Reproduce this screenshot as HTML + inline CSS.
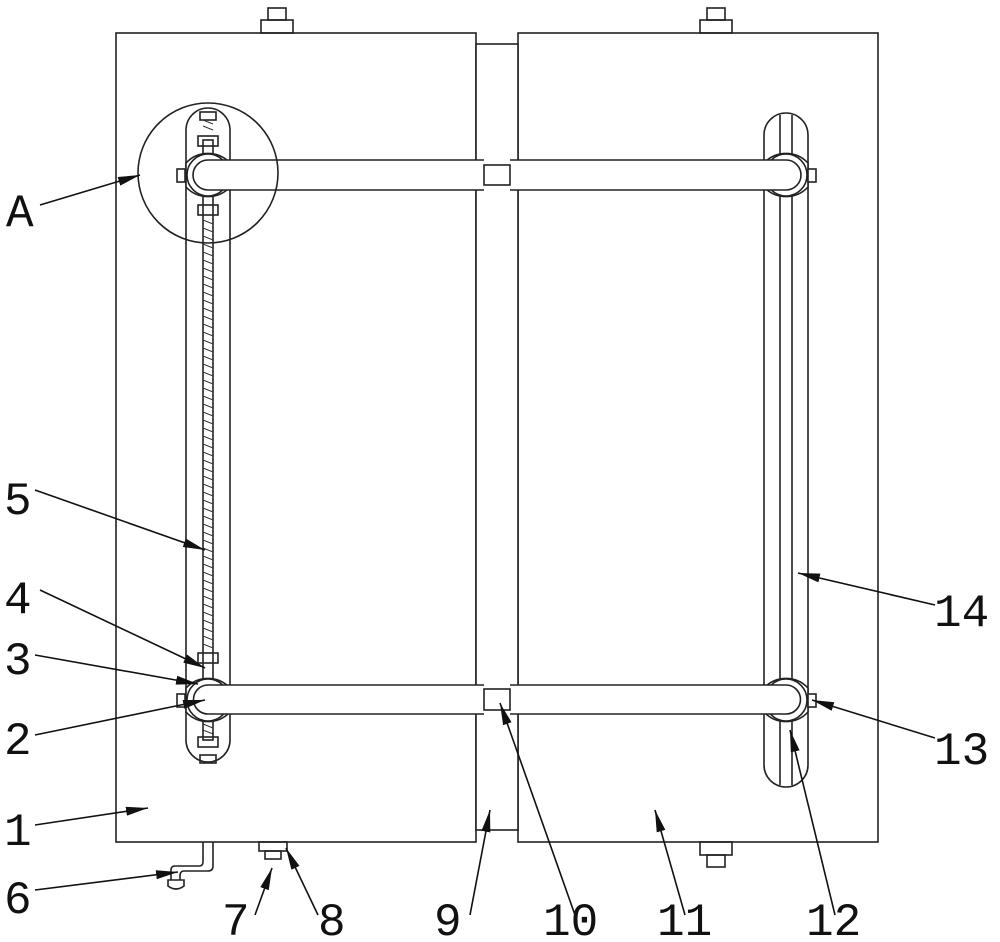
<!DOCTYPE html>
<html><head><style>body{margin:0;background:#fff}svg{display:block}text{font-family:"Liberation Mono","DejaVu Sans Mono",monospace;font-size:46px;fill:#111}</style></head>
<body>
<svg width="1000" height="942" viewBox="0 0 1000 942" xmlns="http://www.w3.org/2000/svg">
<defs><marker id="ar" viewBox="0 0 22 9" refX="22" refY="4.5" markerWidth="22" markerHeight="9" markerUnits="userSpaceOnUse" orient="auto"><path d="M0,0L22,4.5L0,9z" fill="#111"/></marker></defs>
<g fill="none" stroke="#222" stroke-width="1.6">
<rect x="116" y="33" width="360" height="809" fill="#fff"/>
<rect x="518" y="33" width="360" height="809" fill="#fff"/>
<rect x="476" y="44" width="42" height="786" fill="#fff"/>
<rect x="261" y="20" width="32" height="13"/><rect x="268" y="8" width="18" height="12"/>
<rect x="700" y="20" width="32" height="13"/><rect x="707" y="8" width="18" height="12"/>
<rect x="259" y="842" width="28" height="9"/><rect x="265" y="851" width="16" height="8"/>
<rect x="700" y="842" width="32" height="13"/><rect x="707" y="855" width="18" height="12"/>
<path d="M203,842 V862 Q203,866 199,866 H175 Q171,866 171,870 V880 M213,842 V866 Q213,871 208,871 H184 Q180,871 180,876 V880"/>
<path d="M168,880 H184 V886 Q176,892 168,886 Z"/>
<path d="M186,130 A22,22 0 0 1 230,130 V740 A22,22 0 0 1 186,740 Z" fill="#fff"/>
<rect x="203" y="140" width="10" height="600"/>
<rect x="200" y="112" width="16" height="8"/><rect x="198" y="136" width="20" height="10"/>
<rect x="198" y="205" width="20" height="10"/>
<rect x="198" y="653" width="20" height="10"/><rect x="198" y="737" width="20" height="10"/><rect x="200" y="755" width="16" height="8"/>
<path d="M764,135 A22,22 0 0 1 808,135 V765 A22,22 0 0 1 764,765 Z" fill="#fff"/>
<line x1="780" y1="115" x2="780" y2="785"/><line x1="792" y1="115" x2="792" y2="785"/>
<g fill="#fff">
<path d="M186,163 A30,30 0 0 1 230,163 V187 A30,30 0 0 1 186,187 Z"/>
<path d="M186,688 A30,30 0 0 1 230,688 V712 A30,30 0 0 1 186,712 Z"/>
<path d="M764,163 A30,30 0 0 1 808,163 V187 A30,30 0 0 1 764,187 Z"/>
<path d="M764,688 A30,30 0 0 1 808,688 V712 A30,30 0 0 1 764,712 Z"/>
</g>
<circle cx="208" cy="175" r="21"/><circle cx="208" cy="700" r="21"/>
<circle cx="786" cy="175" r="21"/><circle cx="786" cy="700" r="21"/>
<rect x="177" y="169" width="8" height="13" fill="#fff"/><rect x="177" y="694" width="8" height="13" fill="#fff"/>
<rect x="808" y="169" width="8" height="13" fill="#fff"/><rect x="808" y="694" width="8" height="13" fill="#fff"/>
<path d="M484,160 H208 A15,15 0 0 0 208,190 H484" fill="#fff"/>
<path d="M510,160 H786 A15,15 0 0 1 786,190 H510" fill="#fff"/>
<rect x="484" y="165" width="26" height="20" fill="#fff"/>
<path d="M484,685 H208 A14.5,14.5 0 0 0 208,714 H484" fill="#fff"/>
<path d="M510,685 H786 A14.5,14.5 0 0 1 786,714 H510" fill="#fff"/>
<rect x="484" y="689" width="26" height="21" fill="#fff"/>
<circle cx="208" cy="173" r="70"/>
</g>
<g stroke="#333" stroke-width="1">
<path d="M203,220 L213,224 M203,228 L213,232 M203,236 L213,240 M203,244 L213,248 M203,252 L213,256 M203,260 L213,264 M203,268 L213,272 M203,276 L213,280 M203,284 L213,288 M203,292 L213,296 M203,300 L213,304 M203,308 L213,312 M203,316 L213,320 M203,324 L213,328 M203,332 L213,336 M203,340 L213,344 M203,348 L213,352 M203,356 L213,360 M203,364 L213,368 M203,372 L213,376 M203,380 L213,384 M203,388 L213,392 M203,396 L213,400 M203,404 L213,408 M203,412 L213,416 M203,420 L213,424 M203,428 L213,432 M203,436 L213,440 M203,444 L213,448 M203,452 L213,456 M203,460 L213,464 M203,468 L213,472 M203,476 L213,480 M203,484 L213,488 M203,492 L213,496 M203,500 L213,504 M203,508 L213,512 M203,516 L213,520 M203,524 L213,528 M203,532 L213,536 M203,540 L213,544 M203,548 L213,552 M203,556 L213,560 M203,564 L213,568 M203,572 L213,576 M203,580 L213,584 M203,588 L213,592 M203,596 L213,600 M203,604 L213,608 M203,612 L213,616 M203,620 L213,624 M203,628 L213,632 M203,636 L213,640 M203,644 L213,648 M203,724 L213,728 M203,730 L213,734 M203,120 L213,124 M203,126 L213,130"/>
</g>
<g stroke="#111" stroke-width="1.6" marker-end="url(#ar)">
<line x1="40" y1="205" x2="140" y2="175"/>
<line x1="35" y1="490" x2="205" y2="550"/>
<line x1="40" y1="590" x2="205" y2="668"/>
<line x1="35" y1="655" x2="198" y2="684"/>
<line x1="35" y1="735" x2="205" y2="700"/>
<line x1="35" y1="825" x2="148" y2="808"/>
<line x1="35" y1="890" x2="178" y2="872"/>
<line x1="255" y1="915" x2="272" y2="868"/>
<line x1="318" y1="915" x2="286" y2="848"/>
<line x1="470" y1="915" x2="490" y2="810"/>
<line x1="575" y1="915" x2="500" y2="703"/>
<line x1="685" y1="915" x2="655" y2="810"/>
<line x1="835" y1="915" x2="790" y2="730"/>
<line x1="935" y1="738" x2="812" y2="700"/>
<line x1="935" y1="605" x2="798" y2="573"/>
</g>
<text x="6" y="226">A</text>
<text x="4" y="514">5</text>
<text x="4" y="613">4</text>
<text x="4" y="674">3</text>
<text x="4" y="754">2</text>
<text x="4" y="845">1</text>
<text x="4" y="913">6</text>
<text x="222" y="935">7</text>
<text x="318" y="935">8</text>
<text x="434" y="935">9</text>
<text x="543" y="935">10</text>
<text x="657" y="935">11</text>
<text x="806" y="935">12</text>
<text x="934" y="764">13</text>
<text x="934" y="626">14</text>
</svg>
</body></html>
